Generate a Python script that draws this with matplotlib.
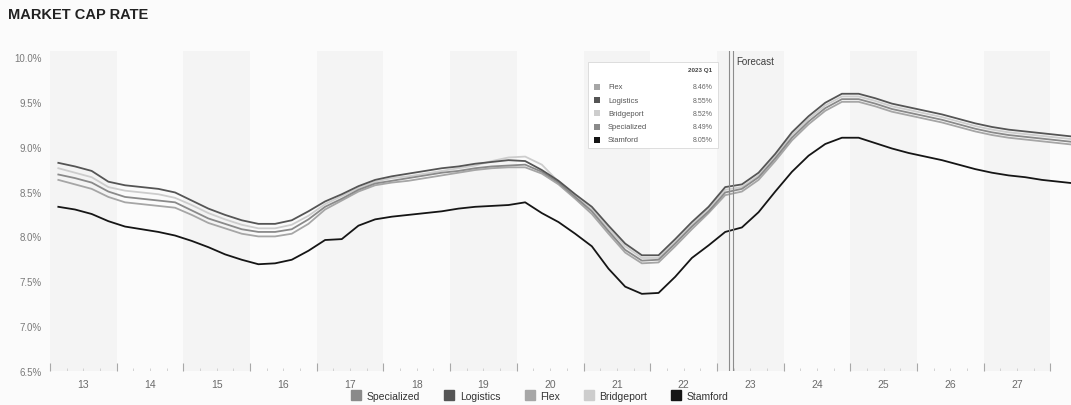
import matplotlib.pyplot as plt
from matplotlib.lines import Line2D
from matplotlib.patches import Rectangle
import numpy as np

plt.rcParams['font.family'] = ['Liberation Sans', 'DejaVu Sans']

# quarterly series, 2013 Q1 .. 2028 Q2
start_year = 2013
n_quarters = 62
forecast_idx = 40  # 2023 Q1
forecast_label = '2023 Q1'

logistics = [8.82, 8.78, 8.73, 8.61, 8.57, 8.55, 8.53, 8.49, 8.40, 8.31, 8.24, 8.18,
             8.14, 8.14, 8.18, 8.28, 8.39, 8.47, 8.56, 8.63, 8.67, 8.70, 8.73, 8.76,
             8.78, 8.81, 8.83, 8.85, 8.84, 8.74, 8.62, 8.47, 8.33, 8.12, 7.92, 7.79,
             7.79, 7.97, 8.16, 8.33, 8.55, 8.58, 8.71, 8.92, 9.16, 9.34, 9.49, 9.59,
             9.59, 9.54, 9.48, 9.44, 9.40, 9.36, 9.31, 9.26, 9.22, 9.19, 9.17, 9.15,
             9.13, 9.11]
bridgeport = [8.76, 8.71, 8.66, 8.55, 8.51, 8.49, 8.47, 8.43, 8.35, 8.26, 8.19, 8.13,
              8.09, 8.09, 8.13, 8.23, 8.36, 8.45, 8.54, 8.61, 8.65, 8.67, 8.70, 8.73,
              8.76, 8.79, 8.84, 8.88, 8.89, 8.80, 8.61, 8.45, 8.30, 8.09, 7.89, 7.76,
              7.76, 7.94, 8.13, 8.31, 8.52, 8.55, 8.68, 8.89, 9.13, 9.31, 9.46, 9.56,
              9.56, 9.51, 9.45, 9.41, 9.37, 9.33, 9.28, 9.23, 9.19, 9.16, 9.14, 9.12,
              9.10, 9.08]
specialized = [8.69, 8.65, 8.60, 8.50, 8.44, 8.42, 8.40, 8.38, 8.29, 8.20, 8.14, 8.08,
               8.05, 8.05, 8.08, 8.19, 8.33, 8.42, 8.52, 8.59, 8.62, 8.65, 8.68, 8.71,
               8.73, 8.76, 8.78, 8.79, 8.80, 8.72, 8.60, 8.44, 8.28, 8.06, 7.85, 7.73,
               7.74, 7.92, 8.11, 8.28, 8.49, 8.53, 8.66, 8.87, 9.10, 9.28, 9.43, 9.53,
               9.53, 9.48, 9.42, 9.38, 9.34, 9.30, 9.25, 9.20, 9.16, 9.13, 9.11, 9.09,
               9.07, 9.05]
flex = [8.63, 8.58, 8.53, 8.44, 8.38, 8.36, 8.34, 8.32, 8.24, 8.15, 8.09, 8.03,
        8.00, 8.00, 8.03, 8.14, 8.30, 8.40, 8.50, 8.57, 8.60, 8.62, 8.65, 8.68,
        8.71, 8.74, 8.76, 8.77, 8.77, 8.70, 8.58, 8.42, 8.25, 8.03, 7.82, 7.70,
        7.71, 7.89, 8.08, 8.26, 8.46, 8.50, 8.63, 8.84, 9.07, 9.25, 9.40, 9.50,
        9.50, 9.45, 9.39, 9.35, 9.31, 9.27, 9.22, 9.17, 9.13, 9.10, 9.08, 9.06,
        9.04, 9.02]
stamford = [8.33, 8.30, 8.25, 8.17, 8.11, 8.08, 8.05, 8.01, 7.95, 7.88, 7.80, 7.74,
            7.69, 7.70, 7.74, 7.84, 7.96, 7.97, 8.12, 8.19, 8.22, 8.24, 8.26, 8.28,
            8.31, 8.33, 8.34, 8.35, 8.38, 8.26, 8.16, 8.03, 7.89, 7.64, 7.44, 7.36,
            7.37, 7.55, 7.76, 7.90, 8.05, 8.10, 8.27, 8.50, 8.72, 8.90, 9.03, 9.10,
            9.10, 9.04, 8.98, 8.93, 8.89, 8.85, 8.80, 8.75, 8.71, 8.68, 8.66, 8.63,
            8.61, 8.59]

series = {
    'Specialized': (specialized, '#8a8a8a'),
    'Logistics': (logistics, '#555555'),
    'Flex': (flex, '#a6a6a6'),
    'Bridgeport': (bridgeport, '#cdcdcd'),
    'Stamford': (stamford, '#151515'),
}
tooltip_order = ['Flex', 'Logistics', 'Bridgeport', 'Specialized', 'Stamford']

W, H = 1071, 406
fig = plt.figure(figsize=(W / 100, H / 100), dpi=100)
fig.patch.set_facecolor('#fbfbfb')
ax = fig.add_axes([50 / W, 1 - 372 / H, 1021 / W, (372 - 51.7) / H])
ax.set_facecolor('#fbfbfb')

x = start_year + (np.arange(n_quarters) + 0.5) / 4
ax.set_xlim(2013, 2028.31)
ax.set_ylim(6.5, 10.07)

# faint year bands
for yr in range(2013, 2029, 2):
    ax.axvspan(yr, yr + 1, color='#f4f4f4', lw=0, zorder=0)

for name in ['Bridgeport', 'Flex', 'Specialized', 'Logistics', 'Stamford']:
    vals, col = series[name]
    ax.plot(x, vals, color=col, lw=1.3, zorder=3, solid_joinstyle='round', clip_on=False)

for s in ax.spines.values():
    s.set_visible(False)

yt = np.arange(6.5, 10.01, 0.5)
ax.set_yticks(yt)
ax.set_yticklabels([f'{v:.1f}%' for v in yt])
ax.tick_params(axis='y', length=0, pad=6, labelsize=7, labelcolor='#7a7a7a')

years = np.arange(2013, 2029)
ax.set_xticks(years)
ax.set_xticklabels([])
ax.set_xticks(years[:-1] + 0.5, minor=True)
ax.set_xticklabels([str(y)[2:] for y in years[:-1]], minor=True)
ax.tick_params(axis='x', which='major', direction='in', length=6, width=0.8, color='#a8a8a8')
ax.tick_params(axis='x', which='minor', length=0, pad=6, labelsize=7.5, labelcolor='#6a6a6a')

# quarter marks
qx = [yr + q / 4 for yr in years[:-1] for q in (1, 2, 3)]
ax.vlines(qx, 6.5, 6.53, color='#cccccc', lw=0.6, zorder=1)

# forecast divider
ax.axvline(2023.185, color='#8c8c8c', lw=0.8, zorder=4)
ax.axvline(2023.245, color='#8c8c8c', lw=0.8, zorder=4)
ax.text(2023.29, 9.96, 'Forecast', fontsize=7, color='#404040', va='center')

fig.text(8 / W, 1 - 15 / H, 'MARKET CAP RATE', fontsize=10.5, fontweight='bold',
         color='#222222', va='center')

# hover box with values at the forecast start
fig.add_artist(Rectangle((588 / W, 1 - 149 / H), 130 / W, 86 / H, transform=fig.transFigure,
                         facecolor='white', edgecolor='#d8d8d8', lw=0.6, zorder=5))
fig.text(712 / W, 1 - 71 / H, forecast_label, fontsize=4.5, fontweight='bold',
         color='#444444', ha='right', va='center', zorder=6)
for k, name in enumerate(tooltip_order):
    vals, col = series[name]
    yy = 1 - (88 + 13.2 * k) / H
    fig.add_artist(Rectangle((594 / W, yy - 3 / H), 6 / W, 6 / H, transform=fig.transFigure,
                             facecolor=col, edgecolor='none', zorder=6))
    fig.text(608 / W, yy, name, fontsize=5.5, color='#555555', va='center', zorder=6)
    fig.text(713 / W, yy, f'{vals[forecast_idx]:.2f}%', fontsize=5, color='#666666',
             ha='right', va='center', zorder=6)

handles = [Line2D([], [], ls='', marker='s', markersize=7, color=col) for _, col in series.values()]
fig.legend(handles, list(series.keys()), loc='center', bbox_to_anchor=(540 / W, 1 - 397 / H),
           ncol=5, frameon=False, fontsize=7.5, handletextpad=0.5, columnspacing=2.3,
           handlelength=1.0, labelcolor='#333333')

fig.savefig('out.png', dpi=100, facecolor=fig.get_facecolor())
